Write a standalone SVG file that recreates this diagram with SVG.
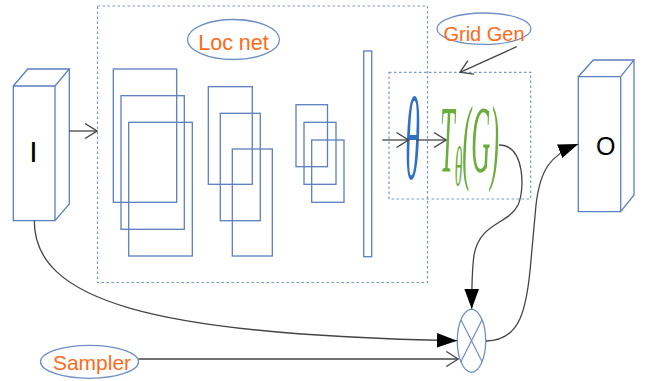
<svg xmlns="http://www.w3.org/2000/svg" width="646" height="381" viewBox="0 0 646 381">
<style>
.box{fill:none;stroke:#5b7fbf;stroke-width:1.3}
.dash{fill:none;stroke:#7896cc;stroke-width:1.2;stroke-dasharray:2.5,2.5}
.ell{fill:#fff;stroke:#6f8fc4;stroke-width:1.3}
.lbl{font-family:"Liberation Sans",Arial,sans-serif;fill:#ff6a1a;text-anchor:middle}
.big{font-family:"Liberation Sans",Arial,sans-serif;fill:#000;text-anchor:middle}
.math{font-family:"Liberation Serif","Times New Roman",serif;font-style:italic}
.con{fill:none;stroke:#444;stroke-width:1.3}
</style>
<defs>
<marker id="open" markerUnits="userSpaceOnUse" markerWidth="14" markerHeight="16" refX="13" refY="8" orient="auto"><path d="M1,0.5 L13,8 L1,15.5" fill="none" stroke="#444" stroke-width="1.3"/></marker>
<marker id="solid" markerUnits="userSpaceOnUse" markerWidth="20" markerHeight="16" refX="20" refY="8" orient="auto"><path d="M0,0.7 L20,8 L0,15.3 Z" fill="#000"/></marker>
</defs>
<g id="locnet">
<rect class="dash" x="97.5" y="6" width="330" height="276.5"/>
<rect class="box" x="113.3" y="69" width="63.4" height="133.3"/>
<rect class="box" x="121" y="95.7" width="63.3" height="133.6"/>
<rect class="box" x="128.7" y="122.3" width="63.6" height="133.7"/>
<rect class="box" x="208.3" y="86.7" width="44" height="97.6"/>
<rect class="box" x="220.3" y="113.3" width="40" height="107.4"/>
<rect class="box" x="232.3" y="149" width="40" height="107"/>
<rect class="box" x="296" y="104.7" width="31.5" height="62"/>
<rect class="box" x="304" y="122.3" width="32" height="62"/>
<rect class="box" x="311.7" y="140" width="32.3" height="62.3"/>
<rect class="box" x="363.7" y="51" width="8" height="205.7"/>
<ellipse class="ell" cx="233.5" cy="39.5" rx="46" ry="20"/>
<text class="lbl" x="233.5" y="49.5" font-size="21.5">Loc net</text>
</g>
<g id="gridgen">
<rect class="dash" x="389" y="72.3" width="141.7" height="126.7"/>
<ellipse class="ell" cx="484" cy="28.7" rx="47" ry="15.7"/>
<text class="lbl" x="484" y="40.7" font-size="20">Grid Gen</text>
<text class="math" transform="translate(412.5,179) scale(0.75,2.95)" x="0" y="0" font-size="40" fill="#2f6fc4" text-anchor="middle">θ</text>
<text class="math" transform="translate(440,172) scale(1.2,4.3)" x="0" y="0" font-size="22" fill="#6aad3a">T<tspan font-size="13" dy="3">θ</tspan><tspan dy="-3">(G)</tspan></text>
</g>
<g id="input">
<path class="box" d="M13.3,86 H55 V220.7 H13.3 Z M13.3,86 L27.7,69 H69.3 L55,86 M69.3,69 V204 L55,220.7"/>
<text class="big" x="33.3" y="162" font-size="30">I</text>
</g>
<g id="output">
<path class="box" d="M578.3,76.7 H620.7 V211.7 H578.3 Z M578.3,76.7 L593.3,60 H634 L620.7,76.7 M634,60 V195 L620.7,211.7"/>
<text class="big" x="605.7" y="155" font-size="25">O</text>
</g>
<g id="sampler">
<ellipse class="ell" cx="89.5" cy="361.8" rx="49" ry="16.5"/>
<text class="lbl" x="92" y="370" font-size="21">Sampler</text>
</g>
<g id="multiply">
<ellipse class="ell" cx="471.5" cy="340.8" rx="14.2" ry="31.5"/>
<path d="M460.9,319.8 L482.1,361.8 M482.1,319.8 L460.9,361.8" stroke="#6f8fc4" stroke-width="1.2" fill="none"/>
</g>
<g id="connectors">
<path class="con" d="M69.3,131 H97" marker-end="url(#open)"/>
<path class="con" d="M382.3,140 H408.5" marker-end="url(#open)"/>
<path class="con" d="M416.5,140 H446" marker-end="url(#open)"/>
<path class="con" d="M516.7,46.7 L460,72.3" marker-end="url(#open)"/>
<path class="con" d="M138.5,359 H458.3" marker-end="url(#open)"/>
<path class="con" d="M34.3,220.7 C34,300 150,335 457,340.7" marker-end="url(#solid)"/>
<path class="con" d="M499,145 C525,145 525,190 518,205 C508,225 480,222 474,255 C472,270 471.7,285 471.7,309" marker-end="url(#solid)"/>
<path class="con" d="M486,341 C520,341 527,310 531,260 L536,205 C540,170 550,155 578.3,144" marker-end="url(#solid)"/>
</g>
</svg>
